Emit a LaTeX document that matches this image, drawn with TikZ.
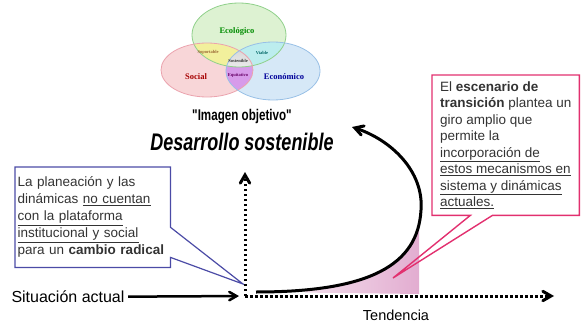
\documentclass[tikz,border=0pt]{standalone}
\usepackage{fontspec}
\setmainfont{Liberation Sans}
\newfontfamily\vennfont{Liberation Serif}
\newfontfamily\titlefont[FakeStretch=0.75]{Liberation Sans}
\usepackage{tikz}
\usetikzlibrary{shapes.geometric, arrows, positioning, calc}
\definecolor{ecofill}{HTML}{DDF2D2}
\definecolor{ecoline}{HTML}{8FD08A}
\definecolor{socfill}{HTML}{F8D6D8}
\definecolor{socline}{HTML}{EBA3AE}
\definecolor{econfill}{HTML}{D6E8F7}
\definecolor{econline}{HTML}{98C0E6}
\definecolor{soportfill}{HTML}{F2F09C}
\definecolor{viafill}{HTML}{BCEDEE}
\definecolor{equifill}{HTML}{D79BEA}
\definecolor{lineazul}{HTML}{4B4BA6}
\definecolor{linearosa}{HTML}{E2306F}
\definecolor{rosa}{HTML}{E2ACD0}
\definecolor{texto}{HTML}{333333}
\tikzstyle{arrow} = [line width=3pt,->,>=angle 60]
\tikzstyle{dots} = [arrow, dash pattern=on 2.5pt off 2.5pt]
\tikzstyle{vlabel} = [font=\vennfont\bfseries\fontsize{8.5}{9}\selectfont, inner sep=0pt]
\tikzstyle{vsmall} = [font=\vennfont\bfseries\fontsize{4.5}{5}\selectfont, inner sep=0pt]
\tikzstyle{cajaizq} = [anchor=north west, text width=150pt, inner xsep=2.5pt, inner ysep=0pt, minimum height=100pt, align=left, text=texto, font=\fontsize{13.5}{17}\selectfont]
\tikzstyle{cajader} = [anchor=north west, minimum width=147pt, minimum height=140pt, inner sep=0pt, align=left, text=texto, font=\fontsize{13.5}{16.5}\selectfont]

\begin{document}
\begin{tikzpicture}[x=1pt, y=-1pt, node distance=25pt]
		\useasboundingbox (0,0) rectangle (581,324);
		\fill[ecofill] (239,35) ellipse [x radius=47, y radius=32];
		\fill[socfill] (207,70) ellipse [x radius=46, y radius=27];
		\fill[econfill] (273,71) ellipse [x radius=47, y radius=29];
		\begin{scope}
			\clip (239,35) ellipse [x radius=47, y radius=32];
			\fill[viafill] (273,71) ellipse [x radius=47, y radius=29];
		\end{scope}
		\begin{scope}
			\clip (207,70) ellipse [x radius=46, y radius=27];
			\fill[soportfill] (239,35) ellipse [x radius=47, y radius=32];
			\fill[equifill] (273,71) ellipse [x radius=47, y radius=29];
			\clip (273,71) ellipse [x radius=47, y radius=29];
			\shade[top color=black!35, bottom color=black!8] (239,35) ellipse [x radius=47, y radius=32];
		\end{scope}
		\draw[ecoline, line width=0.8pt] (239,35) ellipse [x radius=47, y radius=32];
		\draw[socline, line width=0.8pt] (207,70) ellipse [x radius=46, y radius=27];
		\draw[econline, line width=0.8pt] (273,71) ellipse [x radius=47, y radius=29];
		\node (ecologico) [vlabel, text=green!55!black] at (237,31) {Ecológico};
		\node (social) [vlabel, text=red!65!black] at (196,77) {Social};
		\node (economico) [vlabel, text=blue!60!black] at (284,77) {Económico};
		\node (soportable) [vsmall, text=brown!80!black] at (208,52) {Soportable};
		\node (viable) [vsmall, text=teal!80!black] at (262,53) {Viable};
		\node (sostenible) [vsmall, text=black!80] at (238,61) {Sostenible};
		\node (equitativo) [vsmall, text=violet!80!black] at (238,75) {Equitativo};
		\node (imagen) [font=\titlefont\bfseries\fontsize{15.5}{18}\selectfont] at (242,117) {"Imagen objetivo"};
		\node (desarrollo) [below of=imagen, font=\titlefont\bfseries\itshape\fontsize{24}{28}\selectfont] {Desarrollo sostenible};
		\node (planeacion) [cajaizq] at (15,167) {La planeación y las\\ dinámicas \underline{no cuentan}\\ \underline{con la plataforma}\\ \underline{institucional y social}\\ para un \textbf{cambio radical}};
		\coordinate (ltip) at (243,284);
		\draw[lineazul, line width=1.2pt] (planeacion.north west) -- (planeacion.north east) -- ($(planeacion.north east)!0.6!(planeacion.south east)$) -- (ltip) -- ($(planeacion.north east)!0.9!(planeacion.south east)$) -- (planeacion.south east) -- (planeacion.south west) -- cycle;
		\node (actual) [font=\fontsize{16}{19}\selectfont] at (68,297) {Situación actual};
		\coordinate (origen) at (245,296);
		\coordinate (arriba) at (245,172);
		\coordinate (derecha) at (554,296);
		\coordinate (inicio) at (256,292);
		\coordinate (giro) at (421,210);
		\coordinate (meta) at (352,127);
		\begin{scope}
			\clip (305,200) rectangle (419,296);
			\shade[left color=rosa!15, right color=rosa] (inicio) .. controls (370,292) and (418,265) .. (giro) -- (421,294) -- cycle;
		\end{scope}
		\draw[arrow, line width=2.5pt, shorten >=6pt] (actual) -- (origen);
		\draw[dots] (origen) -- (arriba);
		\draw[dots] (origen) -- (derecha);
		\node (tendencia) [font=\fontsize{14.5}{17}\selectfont] at (396,315) {Tendencia};
		\node (escenario) [cajader] at (432,75) {El \textbf{escenario de}\\ \textbf{transición} plantea un\\ giro amplio que\\ permite la\\ \underline{incorporación de}\\ \underline{estos mecanismos en}\\ \underline{sistema y dinámicas}\\ \underline{actuales.}};
		\coordinate (rtip) at (393,278);
		\draw[linearosa, line width=1.4pt] (escenario.north west) -- (escenario.north east) -- (escenario.south east) -- ($(escenario.south west)!0.41!(escenario.south east)$) -- (rtip) -- ($(escenario.south west)!0.26!(escenario.south east)$) -- (escenario.south west) -- cycle;
		\draw[arrow] (inicio) .. controls (370,292) and (418,265) .. (giro) .. controls (424,172) and (392,140) .. (meta);
\end{tikzpicture}
\end{document}
